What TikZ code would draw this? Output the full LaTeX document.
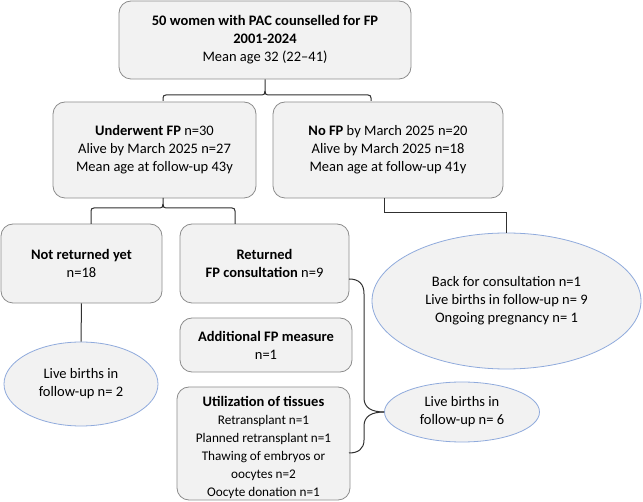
\documentclass[tikz,border=0pt]{standalone}
\usepackage{fontspec}
\setmainfont{Carlito}
\usetikzlibrary{shapes.geometric}
\definecolor{boxfill}{HTML}{F2F2F2}
\definecolor{boxdraw}{HTML}{8C8C8C}
\definecolor{elldraw}{HTML}{8FAADC}
\definecolor{conncol}{HTML}{303030}
\newcommand\smtxt{\fontsize{13.2}{15.8}\selectfont}
\tikzset{
  box/.style={rectangle, rounded corners=12pt, draw=boxdraw, fill=boxfill, line width=0.8pt,
    align=center, inner sep=0pt, font=\fontsize{14.5}{18}\selectfont},
  oval/.style={ellipse, draw=elldraw, fill=boxfill, line width=0.8pt, align=center,
    inner sep=0pt, font=\fontsize{14.5}{18}\selectfont},
  conn/.style={draw=conncol, line width=1pt},
}
\begin{document}
\begin{tikzpicture}[x=1pt,y=-1pt]
\useasboundingbox (0,0) rectangle (643,502);
\node[box, minimum width=292pt, minimum height=78pt] (top) at (265,40)
  {\textbf{50 women with PAC counselled for FP}\\\textbf{2001-2024}\\Mean age 32 (22--41)};
\node[box, minimum width=203pt, minimum height=96pt] (ub) at (154.5,150)
  {\textbf{Underwent FP} n=30\\Alive by March 2025 n=27\\Mean age at follow-up 43y};
\node[box, minimum width=230pt, minimum height=96pt] (nofp) at (388,150)
  {\textbf{No FP} by March 2025 n=20\\Alive by March 2025 n=18\\Mean age at follow-up 41y};
\node[box, minimum width=161pt, minimum height=79pt] (nr) at (81.5,263.5)
  {\textbf{Not returned yet}\\n=18};
\node[box, minimum width=169pt, minimum height=79pt] (ret) at (264.5,263.5)
  {\textbf{Returned}\\\textbf{FP consultation} n=9};
\node[box, minimum width=172pt, minimum height=54pt] (add) at (266,345)
  {\textbf{Additional FP measure}\\n=1};
\node[box, minimum width=173pt, minimum height=113pt,
  label={[align=center, inner sep=0pt, yshift=-4pt, font=\fontsize{14.5}{18}\selectfont]center:{\bfseries Utilization of tissues\\\smtxt Retransplant n=1\\\smtxt Planned retransplant n=1\\\smtxt Thawing of embryos or\\\smtxt oocytes n=2\\\smtxt Oocyte donation n=1}}]
  (util) at (263.5,443.5) {};
\node[oval, minimum width=154pt, minimum height=84pt] (elL) at (81,384)
  {Live births in\\follow-up n= 2};
\node[oval, minimum width=155pt, minimum height=60pt] (elR) at (462,412)
  {Live births in\\follow-up n= 6};
\node[oval, minimum width=269pt, minimum height=136pt] (elB) at (506.5,301)
  {Back for consultation n=1\\Live births in follow-up n= 9\\Ongoing pregnancy n= 1};

% top brace
\draw[conn] (top.south) -- (265,91) .. controls (265,94) and (266,95) .. (268,95)
  -- (368,95) .. controls (370,95) and (371,96) .. (371,98) -- (371,101);
\draw[conn] (265,91) .. controls (265,94) and (264,95) .. (262,95)
  -- (166,95) .. controls (164,95) and (163,96) .. (163,98) -- (163,101);
% underwent brace
\coordinate (ubs) at (163,198);
\draw[conn] (ubs) -- (163,204) .. controls (163,207) and (164,208) .. (166,208)
  -- (232,208) .. controls (234,208) and (235,209) .. (235,211) -- (235,224);
\draw[conn] (163,204) .. controls (163,207) and (162,208) .. (160,208)
  -- (94,208) .. controls (92,208) and (91,209) .. (91,211) -- (91,224);
% no FP to big ellipse
\coordinate (nfs) at (384,198);
\draw[conn] (nfs) -- (384,213) -- (506.5,213) -- (elB.north);
% not returned to left ellipse
\draw[conn] (nr.south) -- (elL.north);
% right brace
\coordinate (ra) at (349,279);
\coordinate (rb) at (349,453);
\draw[conn] (ra) .. controls (359,279) and (364,284) .. (364,294) -- (364,398)
  .. controls (364,408) and (372,412) .. (elR.west);
\draw[conn] (elR.west) .. controls (372,412) and (364,416) .. (364,426) -- (364,440)
  .. controls (364,449) and (358,453) .. (rb);
\end{tikzpicture}
\end{document}
